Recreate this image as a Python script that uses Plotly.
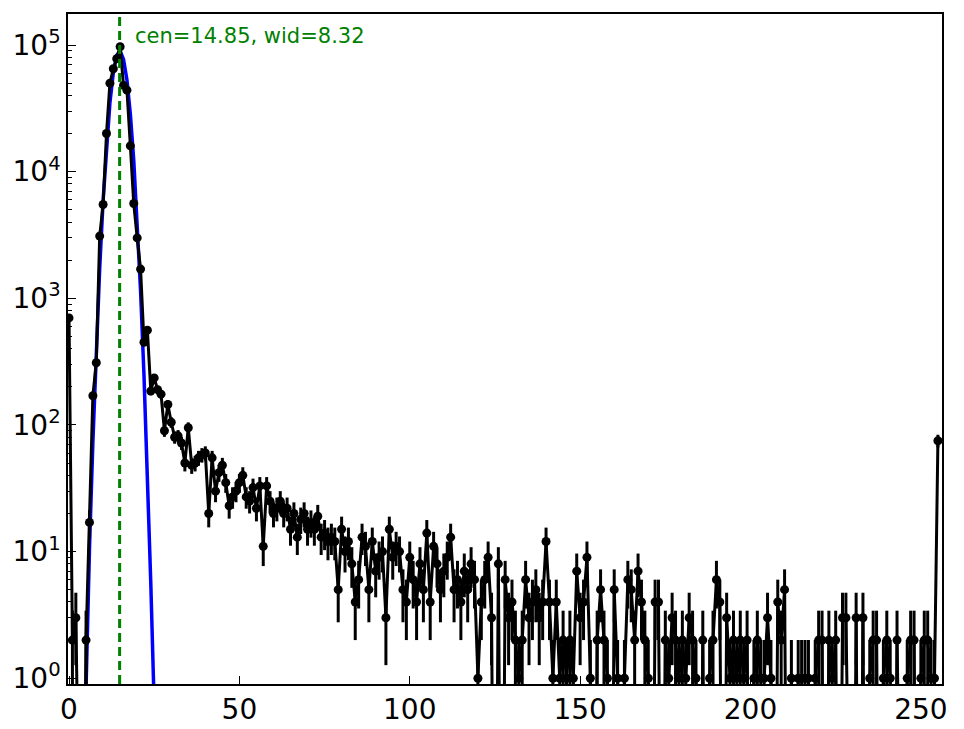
import numpy as np
import plotly.graph_objects as go

# histogram counts per bin (0..255)
counts = [
    700, 2, 3, 0, 0, 2, 17, 170, 310, 3100, 5500, 20000, 50000, 65000, 78000, 97000,
    48000, 44000, 16000, 5600, 3000, 1700, 450, 560, 185, 235, 190, 175, 90, 145, 105, 80,
    82, 72, 50, 95, 48, 50, 55, 58, 60, 20, 55, 30, 42, 48, 35, 23,
    27, 30, 35, 40, 27, 25, 32, 22, 33, 11, 33, 25, 20, 22, 25, 20,
    22, 15, 20, 13, 18, 20, 15, 17, 15, 19, 13, 14, 12, 13, 12, 5,
    15, 10, 12, 8, 4, 6, 13, 11, 5, 12, 7, 9, 10, 3, 15, 9,
    11, 10, 5, 4, 9, 6, 4, 8, 5, 14, 4, 11, 8, 5, 7, 9,
    13, 5, 6, 4, 7, 5, 8, 6, 1, 4, 6, 9, 3, 0, 8, 0,
    6, 3, 4, 2, 1, 2, 6, 3, 4, 5, 3, 4, 12, 4, 1, 4,
    1, 2, 1, 2, 1, 7, 3, 4, 9, 1, 0, 2, 5, 2, 1, 0,
    5, 1, 0, 1, 6, 5, 2, 7, 4, 2, 1, 0, 4, 4, 0, 2,
    1, 3, 2, 1, 2, 1, 3, 2, 1, 0, 2, 0, 1, 2, 6, 4,
    0, 3, 1, 2, 1, 2, 1, 2, 0, 1, 2, 1, 1, 3, 1, 0,
    4, 2, 5, 0, 1, 0, 1, 1, 1, 1, 0, 1, 2, 2, 0, 2,
    1, 2, 0, 3, 3, 0, 0, 3, 0, 3, 0, 1, 2, 2, 0, 1,
    2, 1, 0, 2, 0, 0, 1, 2, 2, 0, 1, 2, 2, 1, 1, 75,
]
bins = list(range(len(counts)))

# fitted gaussian, read at integer bins
fit_x = list(range(4, 27))
fit_y = [0.07, 1.2, 10.5, 73, 400, 1720, 5930, 16200, 35000, 60600, 83000, 90000,
         77000, 53000, 28500, 12300, 4200, 1140, 246, 41, 5.6, 0.6, 0.04]

cen, wid = 14.85, 8.32
label = f"cen={cen:.2f}, wid={wid:.2f}"

x_ticks = [0, 50, 100, 150, 200, 250]
y_ticks = [1, 10, 100, 1000, 10000, 100000]
y_ticktext = ["10<sup>0</sup>", "10<sup>1</sup>", "10<sup>2</sup>",
              "10<sup>3</sup>", "10<sup>4</sup>", "10<sup>5</sup>"]

c = np.array(counts, dtype=float)
err = np.sqrt(c)
# zeros and the lower ends that reach zero fall off the bottom like in matplotlib
floor = 1e-3
y_plot = np.where(c > 0, c, floor)
err_minus = np.where(c > 0, np.minimum(err, c - floor), 0)

fig = go.Figure()
fig.add_trace(go.Scatter(x=fit_x, y=fit_y, mode="lines",
                         line=dict(color="#0000ff", width=3.5), showlegend=False))
fig.add_trace(go.Scatter(
    x=bins, y=y_plot, mode="lines+markers",
    line=dict(color="black", width=3),
    marker=dict(color="black", size=9),
    error_y=dict(type="data", symmetric=False, array=err, arrayminus=err_minus,
                 thickness=3, width=0, color="black"),
    showlegend=False))

fig.add_shape(type="line", x0=cen, x1=cen, y0=0, y1=1, xref="x", yref="paper",
              line=dict(color="green", width=3, dash="9px,5px"))
fig.add_annotation(x=18.8, y=0.967, xref="x", yref="paper", text=label,
                   showarrow=False, xanchor="left", yanchor="middle",
                   font=dict(color="green", size=21))

fig.update_xaxes(range=[-0.3, 256.2], tickvals=x_ticks, ticks="inside", ticklen=8,
                 tickcolor="black", showline=True, linecolor="black", linewidth=1.5,
                 mirror=True, showgrid=False, zeroline=False, automargin=False,
                 tickfont=dict(size=28, color="black"))
fig.update_yaxes(type="log", range=[np.log10(0.9), 5.245], tickvals=y_ticks,
                 ticktext=y_ticktext, ticks="inside", ticklen=8, tickcolor="black",
                 minor=dict(ticks="inside", ticklen=4, tickcolor="black", dtick="D1",
                            showgrid=False),
                 showline=True, linecolor="black", linewidth=1.5, mirror=True,
                 showgrid=False, zeroline=False, automargin=False,
                 tickfont=dict(size=28, color="black"))
# page body adds ~8px offset, margins compensate
fig.update_layout(width=964, height=729, plot_bgcolor="white", paper_bgcolor="white",
                  margin=dict(l=60, r=30, t=6, b=53),
                  font=dict(family="DejaVu Sans", color="black"))

fig.write_html("out.html")
